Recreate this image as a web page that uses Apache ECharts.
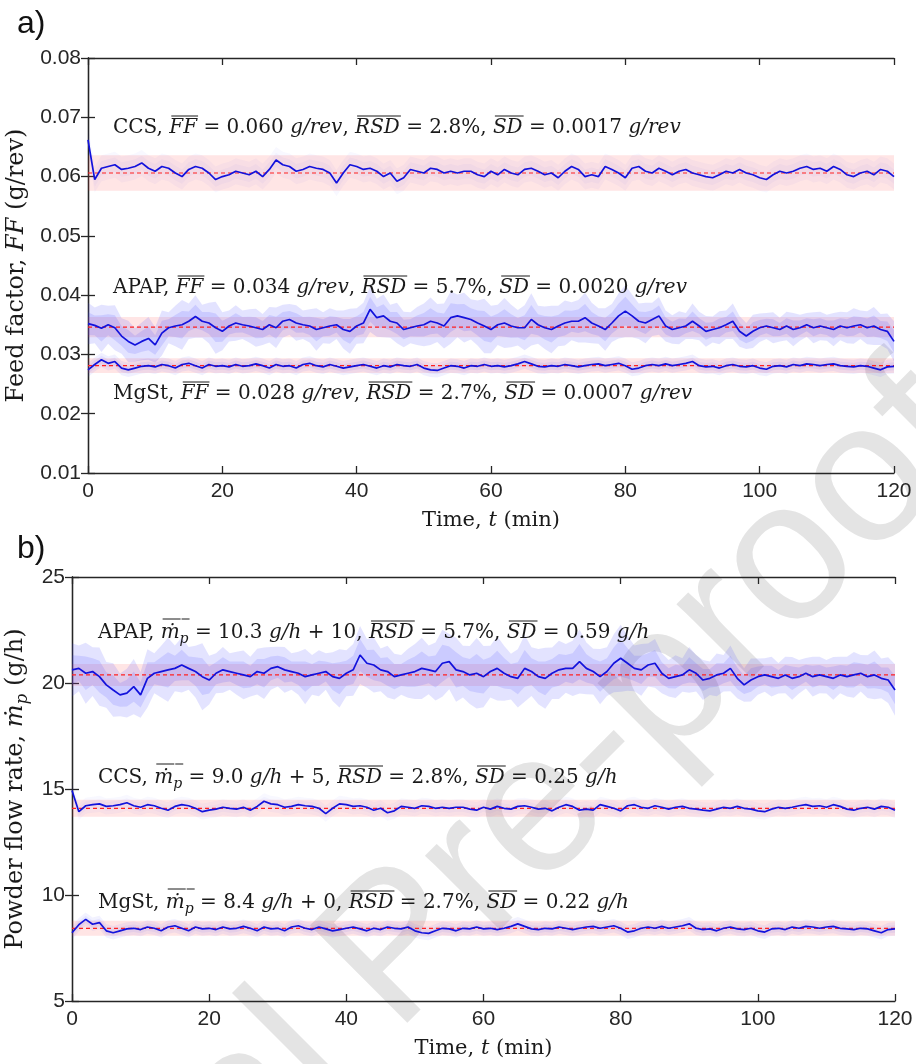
<!DOCTYPE html>
<html>
<head>
<meta charset="utf-8">
<script src="https://cdn.jsdelivr.net/npm/echarts@6/dist/echarts.min.js"></script>
<style>
html, body { margin: 0; padding: 0; background: #fff; }
#main { width: 916px; height: 1064px; }
</style>
</head>
<body>
<div id="main"></div>
<script>
// sampling times, one reading per minute
var timeMin = [];
for (var i = 0; i <= 120; i++) timeMin.push(i);

// a) feed factor (g/rev)
var ccsFF = [
  0.0662, 0.0595, 0.0614, 0.0617, 0.0620, 0.0612, 0.0614, 0.0617, 0.0623, 0.0614,
  0.0609, 0.0617, 0.0614, 0.0606, 0.0600, 0.0612, 0.0617, 0.0614, 0.0606, 0.0595,
  0.0600, 0.0603, 0.0609, 0.0606, 0.0603, 0.0609, 0.0600, 0.0612, 0.0628, 0.0620,
  0.0617, 0.0609, 0.0612, 0.0617, 0.0614, 0.0612, 0.0606, 0.0589, 0.0606, 0.0620,
  0.0617, 0.0612, 0.0614, 0.0609, 0.0600, 0.0606, 0.0592, 0.0598, 0.0612, 0.0609,
  0.0606, 0.0614, 0.0612, 0.0606, 0.0609, 0.0606, 0.0609, 0.0609, 0.0603, 0.0600,
  0.0609, 0.0603, 0.0612, 0.0606, 0.0603, 0.0612, 0.0614, 0.0609, 0.0603, 0.0606,
  0.0598, 0.0609, 0.0617, 0.0612, 0.0600, 0.0603, 0.0600, 0.0617, 0.0612, 0.0606,
  0.0598, 0.0614, 0.0617, 0.0609, 0.0606, 0.0614, 0.0609, 0.0603, 0.0609, 0.0612,
  0.0606, 0.0603, 0.0600, 0.0598, 0.0603, 0.0609, 0.0606, 0.0612, 0.0606, 0.0603,
  0.0598, 0.0595, 0.0603, 0.0609, 0.0606, 0.0609, 0.0614, 0.0617, 0.0612, 0.0614,
  0.0609, 0.0617, 0.0612, 0.0603, 0.0600, 0.0606, 0.0609, 0.0603, 0.0612, 0.0609, 0.0600
];
var apapFF = [
  0.0352, 0.0349, 0.0344, 0.0350, 0.0345, 0.0331, 0.0322, 0.0316, 0.0322, 0.0327,
  0.0316, 0.0336, 0.0345, 0.0348, 0.0350, 0.0356, 0.0364, 0.0356, 0.0353, 0.0345,
  0.0339, 0.0348, 0.0353, 0.0350, 0.0348, 0.0345, 0.0342, 0.0350, 0.0345, 0.0356,
  0.0359, 0.0353, 0.0350, 0.0348, 0.0342, 0.0345, 0.0348, 0.0350, 0.0342, 0.0339,
  0.0348, 0.0353, 0.0376, 0.0362, 0.0365, 0.0356, 0.0353, 0.0342, 0.0345, 0.0348,
  0.0350, 0.0356, 0.0353, 0.0348, 0.0362, 0.0365, 0.0362, 0.0359, 0.0353, 0.0348,
  0.0342, 0.0350, 0.0353, 0.0348, 0.0345, 0.0345, 0.0359, 0.0350, 0.0345, 0.0342,
  0.0348, 0.0353, 0.0356, 0.0356, 0.0362, 0.0353, 0.0348, 0.0342, 0.0353, 0.0365,
  0.0373, 0.0365, 0.0356, 0.0353, 0.0359, 0.0365, 0.0348, 0.0342, 0.0345, 0.0348,
  0.0356, 0.0348, 0.0339, 0.0342, 0.0345, 0.0350, 0.0356, 0.0339, 0.0331, 0.0339,
  0.0345, 0.0348, 0.0345, 0.0342, 0.0348, 0.0342, 0.0345, 0.0350, 0.0345, 0.0348,
  0.0345, 0.0342, 0.0348, 0.0345, 0.0348, 0.0350, 0.0345, 0.0348, 0.0342, 0.0339, 0.0322
];
var mgstFF = [
  0.0274, 0.0283, 0.0291, 0.0285, 0.0288, 0.0277, 0.0274, 0.0277, 0.0280, 0.0281,
  0.0279, 0.0283, 0.0281, 0.0277, 0.0283, 0.0285, 0.0281, 0.0277, 0.0283, 0.0280,
  0.0281, 0.0279, 0.0283, 0.0280, 0.0281, 0.0284, 0.0281, 0.0277, 0.0283, 0.0280,
  0.0281, 0.0277, 0.0283, 0.0285, 0.0281, 0.0279, 0.0283, 0.0280, 0.0277, 0.0279,
  0.0281, 0.0283, 0.0280, 0.0277, 0.0281, 0.0279, 0.0283, 0.0281, 0.0280, 0.0283,
  0.0277, 0.0274, 0.0273, 0.0277, 0.0281, 0.0280, 0.0277, 0.0281, 0.0280, 0.0283,
  0.0280, 0.0281, 0.0279, 0.0281, 0.0284, 0.0288, 0.0284, 0.0280, 0.0279, 0.0281,
  0.0280, 0.0283, 0.0281, 0.0279, 0.0281, 0.0283, 0.0284, 0.0281, 0.0283, 0.0285,
  0.0281, 0.0275, 0.0277, 0.0281, 0.0283, 0.0281, 0.0284, 0.0281, 0.0283, 0.0285,
  0.0288, 0.0281, 0.0279, 0.0280, 0.0277, 0.0281, 0.0283, 0.0280, 0.0279, 0.0281,
  0.0277, 0.0275, 0.0280, 0.0281, 0.0279, 0.0283, 0.0281, 0.0284, 0.0283, 0.0281,
  0.0283, 0.0284, 0.0281, 0.0280, 0.0279, 0.0281, 0.0280, 0.0277, 0.0274, 0.0279, 0.0280
];
// half height of the light blue scatter around the APAP trace (g/rev)
var apapFFSpread = [
  0.0035, 0.0030, 0.0040, 0.0032, 0.0038, 0.0030, 0.0035, 0.0028, 0.0032, 0.0036,
  0.0030, 0.0038, 0.0026, 0.0034, 0.0042, 0.0030, 0.0036, 0.0028, 0.0034, 0.0044,
  0.0032, 0.0026, 0.0030, 0.0024, 0.0028, 0.0032, 0.0026, 0.0030, 0.0034, 0.0028,
  0.0026, 0.0030, 0.0024, 0.0028, 0.0036, 0.0026, 0.0030, 0.0024, 0.0032, 0.0038,
  0.0030, 0.0034, 0.0038, 0.0032, 0.0036, 0.0028, 0.0034, 0.0030, 0.0026, 0.0032,
  0.0036, 0.0040, 0.0032, 0.0038, 0.0044, 0.0036, 0.0042, 0.0034, 0.0038, 0.0046,
  0.0040, 0.0034, 0.0042, 0.0036, 0.0030, 0.0038, 0.0044, 0.0032, 0.0036, 0.0040,
  0.0034, 0.0038, 0.0032, 0.0036, 0.0042, 0.0034, 0.0030, 0.0036, 0.0032, 0.0038,
  0.0044, 0.0036, 0.0030, 0.0034, 0.0028, 0.0032, 0.0026, 0.0024, 0.0028, 0.0022,
  0.0030, 0.0024, 0.0026, 0.0022, 0.0028, 0.0024, 0.0030, 0.0026, 0.0022, 0.0028,
  0.0024, 0.0022, 0.0026, 0.0020, 0.0024, 0.0028, 0.0022, 0.0020, 0.0026, 0.0024,
  0.0022, 0.0028, 0.0024, 0.0026, 0.0030, 0.0024, 0.0028, 0.0032, 0.0026, 0.0030, 0.0034
];
var ffMeans = [0.0606, 0.0346, 0.0281];      // CCS, APAP, MgSt
var ffBands = [0.0030, 0.0017, 0.00125];
var ffHaze = [0.0022, 0, 0.0012];

// b) powder flow rate (g/h, with the offsets of the legend)
var apapMp = [
  20.62, 20.69, 20.46, 20.54, 20.30, 19.91, 19.67, 19.44, 19.52, 19.83,
  19.44, 20.22, 20.46, 20.54, 20.62, 20.69, 20.85, 20.69, 20.54, 20.30,
  20.14, 20.46, 20.62, 20.54, 20.46, 20.38, 20.30, 20.54, 20.46, 20.69,
  20.77, 20.62, 20.54, 20.46, 20.30, 20.38, 20.46, 20.54, 20.30, 20.22,
  20.46, 20.62, 21.32, 20.93, 20.85, 20.62, 20.54, 20.30, 20.38, 20.46,
  20.54, 20.69, 20.62, 20.54, 20.93, 21.01, 20.62, 20.54, 20.38, 20.46,
  20.30, 20.54, 20.69, 20.46, 20.30, 20.22, 20.69, 20.54, 20.30, 20.22,
  20.46, 20.62, 20.69, 20.69, 21.01, 20.69, 20.54, 20.30, 20.54, 20.93,
  21.17, 20.93, 20.69, 20.62, 20.85, 20.93, 20.46, 20.22, 20.30, 20.38,
  20.62, 20.46, 20.14, 20.22, 20.38, 20.46, 20.69, 20.22, 19.91, 20.14,
  20.30, 20.38, 20.30, 20.22, 20.38, 20.22, 20.30, 20.46, 20.30, 20.38,
  20.30, 20.22, 20.38, 20.30, 20.38, 20.46, 20.30, 20.38, 20.22, 20.14, 19.67
];
var ccsMp = [
  14.93, 13.93, 14.21, 14.26, 14.30, 14.18, 14.21, 14.26, 14.35, 14.21,
  14.14, 14.26, 14.21, 14.09, 14.00, 14.18, 14.26, 14.21, 14.09, 13.93,
  14.00, 14.05, 14.14, 14.09, 14.05, 14.14, 14.00, 14.18, 14.42, 14.30,
  14.26, 14.14, 14.18, 14.26, 14.21, 14.18, 14.09, 13.84, 14.09, 14.30,
  14.26, 14.18, 14.21, 14.14, 14.00, 14.09, 13.88, 13.97, 14.18, 14.14,
  14.09, 14.21, 14.18, 14.09, 14.14, 14.09, 14.14, 14.14, 14.05, 14.00,
  14.14, 14.05, 14.18, 14.09, 14.05, 14.18, 14.21, 14.14, 14.05, 14.09,
  13.97, 14.14, 14.26, 14.18, 14.00, 14.05, 14.00, 14.26, 14.18, 14.09,
  13.97, 14.21, 14.26, 14.14, 14.09, 14.21, 14.14, 14.05, 14.14, 14.18,
  14.09, 14.05, 14.00, 13.97, 14.05, 14.14, 14.09, 14.18, 14.09, 14.05,
  13.97, 13.93, 14.05, 14.14, 14.09, 14.14, 14.21, 14.26, 14.18, 14.21,
  14.14, 14.26, 14.18, 14.05, 14.00, 14.09, 14.14, 14.05, 14.18, 14.14, 14.00
];
var mgstMp = [
  8.22, 8.60, 8.85, 8.62, 8.70, 8.31, 8.22, 8.31, 8.40, 8.43,
  8.37, 8.49, 8.43, 8.31, 8.49, 8.55, 8.43, 8.31, 8.49, 8.40,
  8.43, 8.37, 8.49, 8.40, 8.43, 8.52, 8.43, 8.31, 8.49, 8.40,
  8.43, 8.31, 8.49, 8.55, 8.43, 8.37, 8.49, 8.40, 8.31, 8.37,
  8.43, 8.49, 8.40, 8.31, 8.43, 8.37, 8.49, 8.43, 8.40, 8.49,
  8.31, 8.22, 8.19, 8.31, 8.43, 8.40, 8.31, 8.43, 8.40, 8.49,
  8.40, 8.43, 8.37, 8.43, 8.52, 8.64, 8.52, 8.40, 8.37, 8.43,
  8.40, 8.49, 8.43, 8.37, 8.43, 8.49, 8.52, 8.43, 8.49, 8.55,
  8.43, 8.25, 8.31, 8.43, 8.49, 8.43, 8.52, 8.43, 8.49, 8.55,
  8.64, 8.43, 8.37, 8.40, 8.31, 8.43, 8.49, 8.40, 8.37, 8.43,
  8.31, 8.25, 8.40, 8.43, 8.37, 8.49, 8.43, 8.52, 8.49, 8.43,
  8.49, 8.52, 8.43, 8.40, 8.37, 8.43, 8.40, 8.31, 8.22, 8.37, 8.40
];
var apapMpSpread = [
  1.26, 1.08, 1.44, 1.15, 1.37, 1.08, 1.26, 1.01, 1.15, 1.30,
  1.08, 1.37, 0.94, 1.22, 1.51, 1.08, 1.30, 1.01, 1.22, 1.58,
  1.15, 0.94, 1.08, 0.86, 1.01, 1.15, 0.94, 1.08, 1.22, 1.01,
  0.94, 1.08, 0.86, 1.01, 1.30, 0.94, 1.08, 0.86, 1.15, 1.37,
  1.08, 1.22, 1.37, 1.15, 1.30, 1.01, 1.22, 1.08, 0.94, 1.15,
  1.30, 1.44, 1.15, 1.37, 1.58, 1.30, 1.51, 1.22, 1.37, 1.66,
  1.44, 1.22, 1.51, 1.30, 1.08, 1.37, 1.58, 1.15, 1.30, 1.44,
  1.22, 1.37, 1.15, 1.30, 1.51, 1.22, 1.08, 1.30, 1.15, 1.37,
  1.58, 1.30, 1.08, 1.22, 1.01, 1.15, 0.94, 0.86, 1.01, 0.79,
  1.08, 0.86, 0.94, 0.79, 1.01, 0.86, 1.08, 0.94, 0.79, 1.01,
  0.86, 0.79, 0.94, 0.72, 0.86, 1.01, 0.79, 0.72, 0.94, 0.86,
  0.79, 1.01, 0.86, 0.94, 1.08, 0.86, 1.01, 1.15, 0.94, 1.08, 1.22
];
var mpMeans = [20.38, 14.09, 8.43];          // APAP, CCS, MgSt
var mpBands = [0.52, 0.40, 0.35];
var mpHaze = [0, 0.38, 0.32];

// annotation texts, split into runs: flags i = italic, o = overline, s = subscript, h = high overline
var notesA = [
  [['CCS, '], ['FF', 'io'], [' = 0.060 '], ['g/rev', 'i'], [', '], ['RSD', 'io'], [' = 2.8%, '], ['SD', 'io'], [' = 0.0017 '], ['g/rev', 'i']],
  [['APAP, '], ['FF', 'io'], [' = 0.034 '], ['g/rev', 'i'], [', '], ['RSD', 'io'], [' = 5.7%, '], ['SD', 'io'], [' = 0.0020 '], ['g/rev', 'i']],
  [['MgSt, '], ['FF', 'io'], [' = 0.028 '], ['g/rev', 'i'], [', '], ['RSD', 'io'], [' = 2.7%, '], ['SD', 'io'], [' = 0.0007 '], ['g/rev', 'i']]
];
var notesB = [
  [['APAP, '], ['\u1E41', 'ioh'], ['p', 'iosh'], [' = 10.3 '], ['g/h', 'i'], [' + 10, '], ['RSD', 'io'], [' = 5.7%, '], ['SD', 'io'], [' = 0.59 '], ['g/h', 'i']],
  [['CCS, '], ['\u1E41', 'ioh'], ['p', 'iosh'], [' = 9.0 '], ['g/h', 'i'], [' + 5, '], ['RSD', 'io'], [' = 2.8%, '], ['SD', 'io'], [' = 0.25 '], ['g/h', 'i']],
  [['MgSt, '], ['\u1E41', 'ioh'], ['p', 'iosh'], [' = 8.4 '], ['g/h', 'i'], [' + 0, '], ['RSD', 'io'], [' = 2.7%, '], ['SD', 'io'], [' = 0.22 '], ['g/h', 'i']]
];

var serifName = '"DejaVu Serif"';
var serif = '"DejaVu Serif", "Liberation Serif", serif';
var sans = '"Liberation Sans", Arial, sans-serif';
var ink = '#1a1a1a';

var series = [];
function addTrace(xi, yi, vals, haze, mean, band, hazeAlpha) {
  var sp = function (i) { return Array.isArray(haze) ? haze[i] : haze; };
  // light blue scatter: outer and inner envelope drawn as polygons on the axes
  [1, 0.55].forEach(function (k) {
    series.push({
      type: 'custom', xAxisIndex: xi, yAxisIndex: yi, silent: true, z: 2, clip: true,
      data: [[timeMin[0], vals[0]]],
      renderItem: function (params, api) {
        var top = [], bot = [];
        for (var j = 0; j < timeMin.length; j++) {
          top.push(api.coord([timeMin[j], vals[j] + k * sp(j)]));
          bot.unshift(api.coord([timeMin[j], vals[j] - k * sp(j)]));
        }
        return {
          type: 'polygon', shape: { points: top.concat(bot) },
          style: { fill: 'rgba(70,70,255,' + hazeAlpha + ')' }
        };
      }
    });
  });
  series.push({
    type: 'line', xAxisIndex: xi, yAxisIndex: yi, symbol: 'none', silent: true, z: 6,
    lineStyle: { color: '#1212dc', width: 1.7 },
    data: timeMin.map(function (t, i) { return [t, vals[i]]; }),
    markArea: {
      silent: true, z: 1,
      itemStyle: { color: 'rgba(255,40,40,0.12)' },
      data: [[{ xAxis: 0, yAxis: mean - band }, { xAxis: 120, yAxis: mean + band }]]
    }
  });
  // red dashed mean line, above the scatter, below the trace
  series.push({
    type: 'line', xAxisIndex: xi, yAxisIndex: yi, symbol: 'none', silent: true, z: 4,
    lineStyle: { color: '#ff2020', width: 1.2, type: [4, 3] },
    data: [[0, mean], [120, mean]]
  });
}

addTrace(0, 0, ccsFF, ffHaze[0], ffMeans[0], ffBands[0], 0.035);
addTrace(0, 0, apapFF, apapFFSpread, ffMeans[1], ffBands[1], 0.15);
addTrace(0, 0, mgstFF, ffHaze[2], ffMeans[2], ffBands[2], 0.08);
addTrace(2, 2, apapMp, apapMpSpread, mpMeans[0], mpBands[0], 0.15);
addTrace(2, 2, ccsMp, mpHaze[1], mpMeans[1], mpBands[1], 0.04);
addTrace(2, 2, mgstMp, mpHaze[2], mpMeans[2], mpBands[2], 0.07);

// lay out one annotation run by run, measuring each run so overlines sit on it
var mctx = document.createElement('canvas').getContext('2d');
function note(x, y, runs) {
  var els = [], cx = x;
  runs.forEach(function (r) {
    var f = r[1] || '';
    var sub = f.indexOf('s') >= 0;
    var italic = f.indexOf('i') >= 0;
    var size = sub ? 14 : 20;
    mctx.font = (italic ? 'italic ' : '') + size + 'px ' + serifName;
    var w = mctx.measureText(r[0]).width;
    els.push({
      type: 'text', x: cx, y: sub ? y + 6 : y, z: 10, silent: true,
      style: { text: r[0], fontFamily: serif, fontSize: size, fontStyle: italic ? 'italic' : 'normal', fill: ink, verticalAlign: 'middle' }
    });
    if (f.indexOf('o') >= 0) {
      var oy = f.indexOf('h') >= 0 ? y - 14 : y - 12;
      els.push({
        type: 'line', z: 10, silent: true,
        shape: { x1: cx + 2, y1: oy, x2: cx + w + 1, y2: oy },
        style: { stroke: ink, lineWidth: 1 }
      });
    }
    cx += w;
  });
  return els;
}

var graphics = [{
  type: 'text', x: 400, y: 952, rotation: Math.PI / 4, z: 0, silent: true,
  style: { text: 'Journal Pre-proof', fontFamily: sans, fontSize: 200, fill: '#e4e4e4', align: 'center', verticalAlign: 'middle' }
}, {
  type: 'text', x: 17, y: 24, z: 10,
  style: { text: 'a)', fontFamily: sans, fontSize: 32, fill: '#111', verticalAlign: 'middle' }
}, {
  type: 'text', x: 17, y: 549, z: 10,
  style: { text: 'b)', fontFamily: sans, fontSize: 32, fill: '#111', verticalAlign: 'middle' }
}];
var notePos = [[113, 128], [113, 288], [113, 394], [98, 633], [98, 778], [98, 903]];
notesA.concat(notesB).forEach(function (runs, k) {
  graphics = graphics.concat(note(notePos[k][0], notePos[k][1], runs));
});

var axisLine = { show: true, lineStyle: { color: '#262626', width: 1.3 } };
var tick = { show: true, inside: true, length: 7, lineStyle: { color: '#262626', width: 1.3 } };
var tickLabel = { fontFamily: sans, fontSize: 21, color: '#262626', showMinLabel: true, showMaxLabel: true };
function nameStyle(size) {
  return {
    fontFamily: serif, fontSize: size, color: ink,
    rich: {
      i: { fontFamily: serif, fontSize: size, fontStyle: 'italic', color: ink },
      s: { fontFamily: serif, fontSize: size * 0.7, fontStyle: 'italic', color: ink, verticalAlign: 'top', padding: [size * 0.5, 0, 0, 0] }
    }
  };
}

function xAx(grid, pos) {
  var ax = {
    type: 'value', gridIndex: grid, position: pos, min: 0, max: 120, interval: 20,
    axisLine: axisLine, axisTick: tick, splitLine: { show: false },
    axisLabel: Object.assign({ margin: 8 }, tickLabel)
  };
  if (pos === 'top') {
    ax.axisLabel = { show: false };
  } else {
    ax.name = 'Time, {i|t} (min)';
    ax.nameLocation = 'middle';
    ax.nameGap = 37;
    ax.nameTextStyle = nameStyle(21);
  }
  return ax;
}
function yAx(grid, pos, min, max, step, digits, name, gap) {
  var ax = {
    type: 'value', gridIndex: grid, position: pos, min: min, max: max, interval: step,
    axisLine: axisLine, axisTick: tick, splitLine: { show: false },
    axisLabel: Object.assign({ margin: 7, formatter: function (v) { return v.toFixed(digits); } }, tickLabel)
  };
  if (pos === 'right') {
    ax.axisLabel = { show: false };
  } else {
    ax.name = name;
    ax.nameLocation = 'middle';
    ax.nameGap = gap;
    ax.nameTextStyle = nameStyle(24);
  }
  return ax;
}

var chart = echarts.init(document.getElementById('main'));
chart.setOption({
  animation: false,
  backgroundColor: '#fff',
  grid: [
    { left: 88, top: 58, width: 806, height: 415, containLabel: false, outerBoundsMode: 'none' },
    { left: 72, top: 577, width: 823, height: 424, containLabel: false, outerBoundsMode: 'none' }
  ],
  xAxis: [xAx(0, 'bottom'), xAx(0, 'top'), xAx(1, 'bottom'), xAx(1, 'top')],
  yAxis: [
    yAx(0, 'left', 0.01, 0.08, 0.01, 2, 'Feed factor, {i|FF} (g/rev)', 44),
    yAx(0, 'right', 0.01, 0.08, 0.01, 2),
    yAx(1, 'left', 5, 25, 5, 0, 'Powder flow rate, {i|\u1E41}{s|p} (g/h)', 28),
    yAx(1, 'right', 5, 25, 5, 0)
  ],
  graphic: graphics,
  series: series
});
</script>
</body>
</html>
